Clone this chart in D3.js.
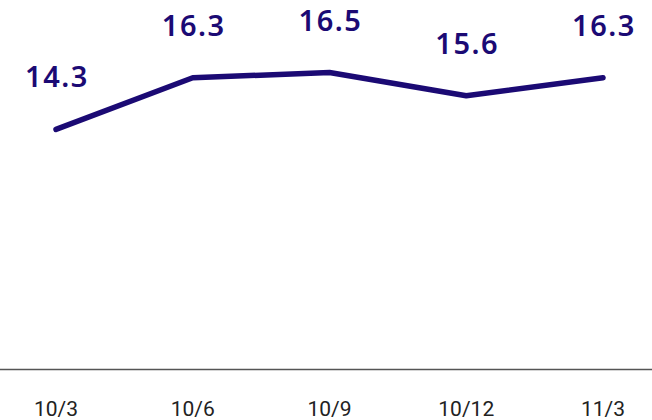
<!DOCTYPE html>
<html><head><meta charset="utf-8">
<script src="https://cdn.jsdelivr.net/npm/d3@7"></script>
<style>html,body{margin:0;padding:0;background:#fff;}</style>
</head><body>
<svg id="c" width="652" height="420"></svg>
<script>
const categories = ["10/3", "10/6", "10/9", "10/12", "11/3"];
const values = [14.3, 16.3, 16.5, 15.6, 16.3];
const valueLabels = ["14.3", "16.3", "16.5", "15.6", "16.3"];

const W = 652, H = 420;
const color = "#1b0a74";
const svg = d3.select("#c");

const x = d3.scalePoint().domain(categories).range([56, 603]);
const y = d3.scaleLinear().domain([5, 20]).range([370, -18]);

// baseline
svg.append("line").attr("x1", 0).attr("x2", W).attr("y1", 369.5).attr("y2", 369.5)
  .attr("stroke", "#555").attr("stroke-width", 1.3);

// x labels
svg.append("g").selectAll("text").data(categories).join("text")
  .attr("x", d => x(d)).attr("y", 416)
  .attr("text-anchor", "middle")
  .attr("font-family", "Roboto, sans-serif")
  .attr("font-size", 21)
  .attr("fill", "#222").text(d => d);

// line
const line = d3.line().x((d, i) => x(categories[i])).y(d => y(d));
svg.append("path").datum(values).attr("d", line)
  .attr("fill", "none").attr("stroke", color).attr("stroke-width", 5.5)
  .attr("stroke-linecap", "round").attr("stroke-linejoin", "round");

// value labels
svg.append("g").selectAll("text").data(values).join("text")
  .attr("x", (d, i) => x(categories[i]) + 1)
  .attr("y", d => y(d) - 42)
  .attr("text-anchor", "middle")
  .attr("font-family", "'Noto Sans', sans-serif")
  .attr("font-weight", 600)
  .attr("font-size", 29).attr("letter-spacing", 1.5)
  .attr("fill", color).text((d, i) => valueLabels[i]);
</script>
</body></html>
